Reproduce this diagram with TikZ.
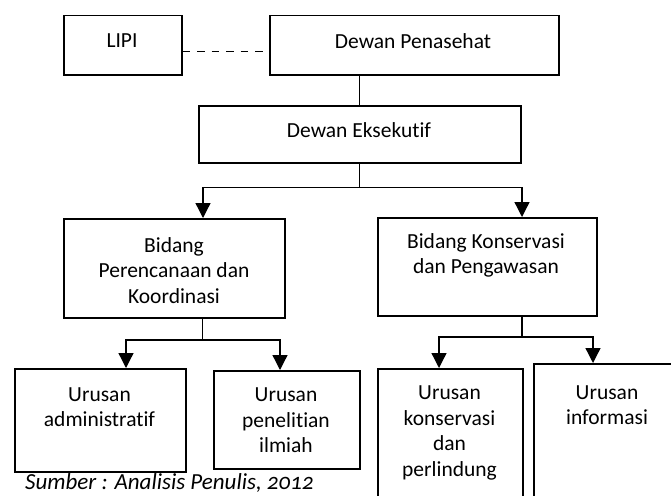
\documentclass[tikz,border=0pt]{standalone}
\usepackage{fontspec}
\setmainfont{Carlito}[Ligatures=CommonOff]
\usetikzlibrary{arrows.meta}
\begin{document}
\begin{tikzpicture}[x=1pt,y=-1pt,
  box/.style={draw,line width=1.5pt,inner sep=0pt,anchor=north west},
  txt/.style={align=center,inner sep=0pt,font=\fontsize{21.5}{25.5}\selectfont},
  conn/.style={line width=1.3pt},
  arr/.style={line width=1.3pt,-{Triangle[width=15pt,length=15pt]}}]
\useasboundingbox (0,0) rectangle (671,495);
% boxes
\node[box,minimum width=118pt,minimum height=59pt] (lipi) at (63,15) {};
\node[box,minimum width=289pt,minimum height=59pt] (dp) at (269,15) {};
\node[box,minimum width=322pt,minimum height=57pt] (de) at (198,105) {};
\node[box,minimum width=221pt,minimum height=99pt] (bl) at (63,218) {};
\node[box,minimum width=219pt,minimum height=98pt] (br) at (377,217) {};
\node[box,minimum width=171pt,minimum height=103pt] (ua) at (14,368) {};
\node[box,minimum width=146pt,minimum height=98pt] (up) at (213,370) {};
\node[box,minimum width=145pt,minimum height=150pt] (uk) at (377,368) {};
\node[box,minimum width=150pt,minimum height=150pt] (ui) at (533,363) {};
% texts
\node[txt] (tlipi) at (122,41) {LIPI};
\node[txt] (tdp) at (413,41) {Dewan Penasehat};
\node[txt] (tde) at (359,130) {Dewan Eksekutif};
\node[txt] (tbl) at (174,270.5) {Bidang\\Perencanaan dan\\Koordinasi};
\node[txt] (tbr) at (486,255.5) {Bidang Konservasi\\dan Pengawasan};
\node[txt] (tua) at (99.5,407) {Urusan\\administratif};
\node[txt] (tup) at (286,420.5) {Urusan\\penelitian\\ilmiah};
\node[txt] (tuk) at (449.5,433) {Urusan\\konservasi\\dan\\perlindung};
\node[txt] (tui) at (607,405) {Urusan\\informasi};
\node[txt,anchor=base west,font=\fontsize{23}{26}\selectfont\itshape\addfontfeatures{Numbers=OldStyle}] (src) at (25,489.5) {Sumber : Analisis Penulis, 2012};
% connector points
\coordinate (ab1) at (203,218);
\coordinate (ab2) at (522,217);
\coordinate (s1) at (202.5,317);
\coordinate (a3) at (126,368);
\coordinate (a4) at (280,370);
\coordinate (s2) at (522,315);
\coordinate (a5) at (439,368);
\coordinate (a6) at (593,363);
% connectors
\draw[conn,dash pattern=on 7.5pt off 7pt] ([yshift=-6.5pt]lipi.east) -- ([yshift=-6.5pt]dp.west);
\draw[conn] (de.north) -- (de.north |- dp.south);
\draw[arr] (de.south) -- ++(0,24) -| (ab1);
\draw[arr] (de.south) -- ++(0,24) -| (ab2);
\draw[arr] (s1) -- ++(0,23) -| (a3);
\draw[arr] (s1) -- ++(0,23) -| (a4);
\draw[arr] (s2) -- ++(0,22) -| (a5);
\draw[arr] (s2) -- ++(0,22) -| (a6);
\end{tikzpicture}
\end{document}
